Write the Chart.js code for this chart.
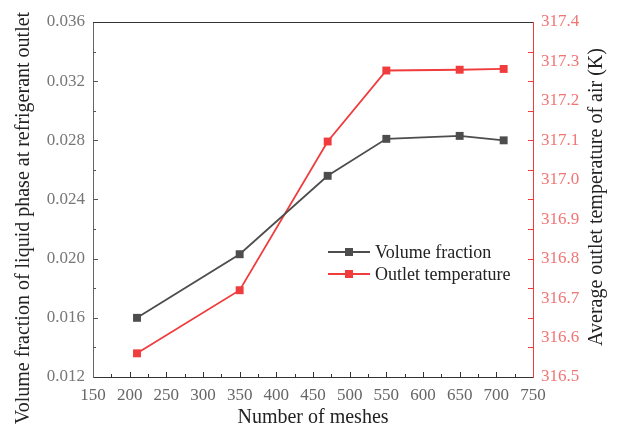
<!DOCTYPE html>
<html>
<head>
<meta charset="utf-8">
<script src="https://cdn.jsdelivr.net/npm/chart.js@4/dist/chart.umd.min.js"></script>
<style>
  html, body { margin: 0; padding: 0; background: #fff; }
  #wrap { width: 618px; height: 430px; }
</style>
</head>
<body>
<div id="wrap"><canvas id="c" width="618" height="430"></canvas></div>
<script>
'use strict';

// ─── data ───
const meshes = [210, 350, 470, 550, 650, 710];
const volumeFraction = [0.0160, 0.0203, 0.0256, 0.0281, 0.0283, 0.0280];
const outletTemp = [316.56, 316.72, 317.097, 317.277, 317.279, 317.281];
const seriesLabels = ['Volume fraction', 'Outlet temperature'];
const leftTitle = 'Volume fraction of liquid phase at refrigerant outlet';
const rightTitle = 'Average outlet temperature of air (K)';

const GREY = '#4d4d4d';
const RED = '#f03c3c';
const SERIF = "'Liberation Serif', 'Times New Roman', serif";

function verticalText(ctx, text, x, y) {
  ctx.save();
  ctx.translate(x, y);
  ctx.rotate(-Math.PI / 2);
  ctx.textAlign = 'center';
  ctx.textBaseline = 'middle';
  ctx.fillText(text, 0, 0);
  ctx.restore();
}

// inward tick marks, top frame line, y titles and the in-plot legend
const frameAndLegend = {
  id: 'frameAndLegend',
  afterDraw(chart) {
    const { ctx, chartArea: a, scales } = chart;
    ctx.save();
    ctx.lineWidth = 1;

    // top frame
    ctx.strokeStyle = '#333';
    ctx.beginPath();
    ctx.moveTo(a.left, a.top + 0.5);
    ctx.lineTo(a.right, a.top + 0.5);
    ctx.stroke();

    // x ticks every 25, taller at 50s
    ctx.beginPath();
    for (let v = 175; v < 750; v += 25) {
      const px = Math.round(scales.x.getPixelForValue(v)) + 0.5;
      const len = v % 50 === 0 ? 5 : 3;
      ctx.moveTo(px, a.bottom);
      ctx.lineTo(px, a.bottom - len);
    }
    ctx.stroke();

    // left ticks every 0.002
    ctx.strokeStyle = '#555';
    ctx.beginPath();
    for (let i = 1; i < 12; i++) {
      const py = Math.round(scales.y.getPixelForValue(0.012 + i * 0.002)) + 0.5;
      ctx.moveTo(a.left, py);
      ctx.lineTo(a.left + (i % 2 === 0 ? 5 : 3), py);
    }
    ctx.stroke();

    // right ticks (drawn at the same spacing as the left axis)
    ctx.strokeStyle = RED;
    ctx.beginPath();
    for (let i = 1; i < 12; i++) {
      const py = Math.round(scales.y.getPixelForValue(0.012 + i * 0.002)) + 0.5;
      ctx.moveTo(a.right, py);
      ctx.lineTo(a.right - 5, py);
    }
    ctx.stroke();

    // y axis titles, both reading bottom to top
    ctx.fillStyle = '#222';
    ctx.font = '20px ' + SERIF;
    verticalText(ctx, leftTitle, 24, 218);
    verticalText(ctx, rightTitle, 597, 197);

    // legend
    const lx = 328, ly = 252, gap = 22;
    chart.data.datasets.forEach((ds, i) => {
      const y = ly + i * gap;
      ctx.strokeStyle = ds.borderColor;
      ctx.lineWidth = 1.8;
      ctx.beginPath();
      ctx.moveTo(lx, y);
      ctx.lineTo(lx + 42, y);
      ctx.stroke();
      ctx.fillStyle = ds.backgroundColor;
      ctx.fillRect(lx + 17, y - 4, 8, 8);
      ctx.fillStyle = '#222';
      ctx.font = '18px ' + SERIF;
      ctx.textBaseline = 'middle';
      ctx.textAlign = 'left';
      ctx.fillText(ds.label, lx + 47, y + 1);
    });
    ctx.restore();
  },
};

new Chart(document.getElementById('c'), {
  type: 'line',
  data: {
    datasets: [
      {
        label: seriesLabels[0],
        data: meshes.map((m, i) => ({ x: m, y: volumeFraction[i] })),
        yAxisID: 'y',
        borderColor: GREY,
        backgroundColor: GREY,
        borderWidth: 1.8,
        pointStyle: 'rect',
        pointRadius: 5.6,
        pointBorderWidth: 0,
      },
      {
        label: seriesLabels[1],
        data: meshes.map((m, i) => ({ x: m, y: outletTemp[i] })),
        yAxisID: 'y2',
        borderColor: RED,
        backgroundColor: RED,
        borderWidth: 1.8,
        pointStyle: 'rect',
        pointRadius: 5.6,
        pointBorderWidth: 0,
      },
    ],
  },
  options: {
    responsive: false,
    animation: false,
    layout: { padding: { top: 22, left: 0, right: 0, bottom: 0 } },
    plugins: { legend: { display: false }, tooltip: { enabled: false } },
    scales: {
      x: {
        type: 'linear',
        min: 150,
        max: 750,
        afterFit: s => { s.height = 53; },
        ticks: { stepSize: 50, color: '#666', padding: 8, maxRotation: 0,
                 font: { family: SERIF, size: 17 } },
        grid: { display: false, drawTicks: false },
        border: { display: true, color: '#333', width: 1 },
        title: { display: true, text: 'Number of meshes', color: '#222',
                 padding: { top: 0, bottom: 0 }, font: { family: SERIF, size: 20 } },
      },
      y: {
        position: 'left',
        min: 0.012,
        max: 0.036,
        afterFit: s => { s.width = 93; },
        afterBuildTicks: s => {
          s.ticks = [];
          for (let i = 0; i <= 6; i++) s.ticks.push({ value: 0.012 + i * 0.004 });
        },
        ticks: { color: '#777', padding: 8, callback: v => v.toFixed(3),
                 font: { family: SERIF, size: 17 } },
        grid: { display: false, drawTicks: false },
        border: { display: true, color: '#666', width: 1 },
        title: { display: false },
      },
      y2: {
        position: 'right',
        min: 316.5,
        max: 317.4,
        afterFit: s => { s.width = 85; },
        afterBuildTicks: s => {
          s.ticks = [];
          for (let i = 0; i <= 9; i++) s.ticks.push({ value: 316.5 + i * 0.1 });
        },
        ticks: { color: '#f07575', padding: 8, callback: v => v.toFixed(1),
                 font: { family: SERIF, size: 17 } },
        grid: { display: false, drawTicks: false },
        border: { display: true, color: RED, width: 1 },
        title: { display: false },
      },
    },
  },
  plugins: [frameAndLegend],
});
</script>
</body>
</html>
